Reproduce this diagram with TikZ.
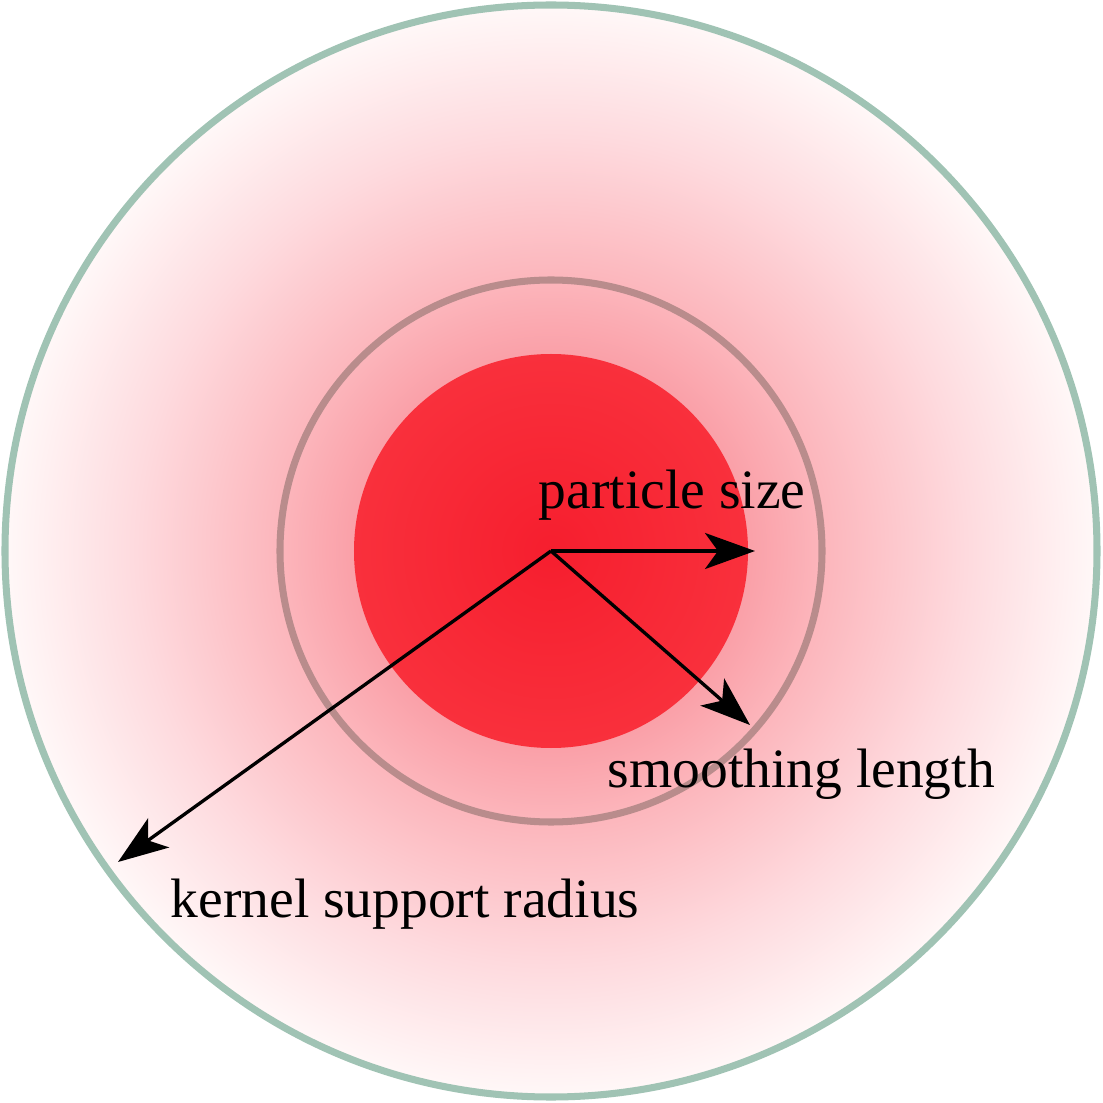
\documentclass[tikz,border=0pt]{standalone}
\usepackage{fontspec}
\setmainfont{Liberation Serif}
\usepackage{tikz}
\usetikzlibrary{arrows.meta, calc}

\definecolor{haloA}{RGB}{248,90,105}
\definecolor{haloB}{RGB}{250,160,168}
\definecolor{haloC}{RGB}{252,182,188}
\definecolor{haloD}{RGB}{254,218,222}
\definecolor{haloE}{RGB}{255,248,248}
\definecolor{coreA}{RGB}{246,30,46}
\definecolor{coreB}{RGB}{249,48,60}
\definecolor{rimgreen}{RGB}{160,195,180}
\definecolor{rimbrown}{RGB}{185,140,140}

\pgfdeclareradialshading{halo}{\pgfpoint{0bp}{0bp}}{%
  color(0bp)=(haloA); color(9bp)=(haloB); color(12.5bp)=(haloC);
  color(19bp)=(haloD); color(25bp)=(haloE); color(50bp)=(haloE)}
\pgfdeclareradialshading{core}{\pgfpoint{0bp}{0bp}}{%
  color(0bp)=(coreA); color(25bp)=(coreB); color(50bp)=(coreB)}

\begin{document}
\begin{tikzpicture}[
    font=\fontsize{15.8}{18}\selectfont,
    >={Stealth[length=5mm, width=3.6mm, inset=1.3mm]},
    radius/.style={->, line width=0.95pt, draw=black},
    tag/.style={anchor=base west, inner sep=0pt, text=black}
  ]
    \fill[white] (-5.51,-5.52) rectangle (5.52,5.51);
    \useasboundingbox (-5.51,-5.52) rectangle (5.52,5.51);
    % kernel halo and rings
    \shade[shading=halo] (0,0) circle (5.46);
    \shade[shading=core] (0,0) circle (1.97);
    \draw[rimbrown, line width=2pt] (0,0) circle (2.71);
    \draw[rimgreen, line width=2pt] (0,0) circle (5.46);
    % radii
    \coordinate (c) at (0,0);
    \coordinate (psEnd) at (2.04,0);
    \coordinate (slEnd) at (1.99,-1.74);
    \coordinate (ksEnd) at (-4.33,-3.11);
    \draw[radius] (c) -- (psEnd);
    \draw[radius] (c) -- (slEnd);
    \draw[radius] (c) -- (ksEnd);
    \node[tag] (ps) at (-0.13,0.42) {particle size};
    \node[tag] (sl) at (0.56,-2.36) {smoothing length};
    \node[tag] (ks) at (-3.81,-3.66) {kernel support radius};
  \end{tikzpicture}
\end{document}
